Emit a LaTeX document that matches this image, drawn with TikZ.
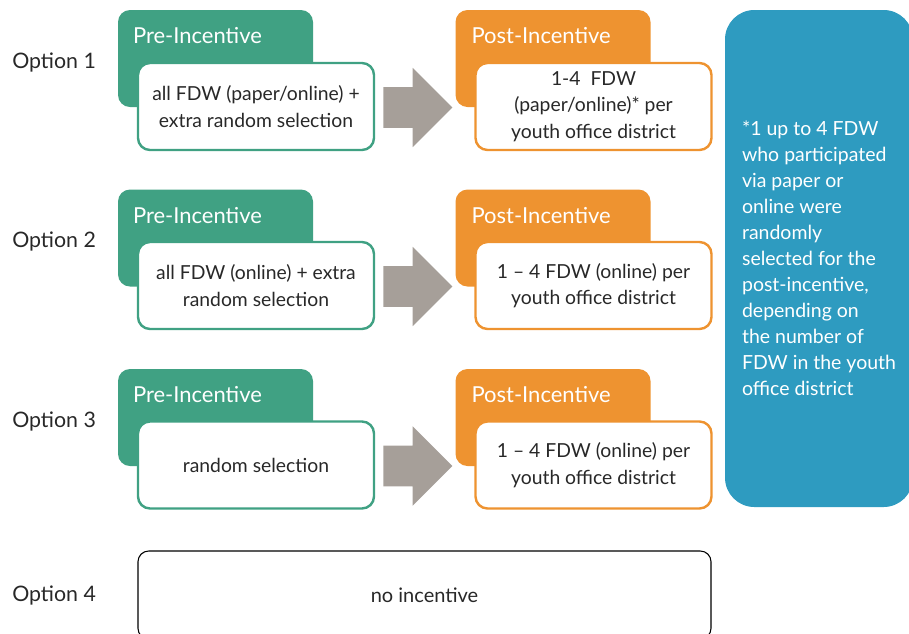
\documentclass[tikz,border=0pt]{standalone}
\usepackage{fontspec}
\setmainfont{Lato}
\usetikzlibrary{shapes.arrows,calc}
\definecolor{fdwgreen}{RGB}{64,161,131}
\definecolor{fdworange}{RGB}{238,147,48}
\definecolor{fdwblue}{RGB}{46,155,192}
\definecolor{fdwgray}{RGB}{166,159,153}
\definecolor{fdwtext}{RGB}{40,40,40}
\tikzset{
  headbox/.style={rounded corners=9pt, minimum width=146.25pt, minimum height=72.75pt, inner sep=0pt},
  prehead/.style={headbox, fill=fdwgreen},
  posthead/.style={headbox, fill=fdworange},
  headtext/.style={anchor=west, inner sep=0pt, text=white, font=\fontsize{16.5}{19}\selectfont},
  bodybox/.style={rounded corners=9pt, fill=white, line width=1.8pt, minimum width=177pt, minimum height=65.25pt, inner sep=0pt, align=center, text=fdwtext, font=\fontsize{14.5}{20}\selectfont},
  prebody/.style={bodybox, draw=fdwgreen},
  postbody/.style={bodybox, draw=fdworange},
  steparrow/.style={single arrow, fill=fdwgray, anchor=tail, minimum height=51.75pt, minimum width=59.25pt, single arrow head extend=14.6pt, single arrow tip angle=90, inner xsep=0pt, inner ysep=15pt},
  optlabel/.style={anchor=west, inner sep=0pt, text=fdwtext, font=\fontsize{16}{19}\selectfont},
  notebox/.style={rounded corners=22pt, fill=fdwblue, minimum width=141pt, minimum height=372.75pt, inner sep=0pt, align=left, text=white, font=\fontsize{14.6}{19.5}\selectfont},
  nonebox/.style={rounded corners=8pt, draw=black, line width=0.8pt, fill=white, minimum width=429.75pt, minimum height=66pt, inner sep=0pt, text=fdwtext, font=\fontsize{15}{18}\selectfont}
}
\begin{document}
\begin{tikzpicture}[x=0.75pt,y=-0.75pt]
  \useasboundingbox (0,0) rectangle (909,633);
  \clip (0,0) rectangle (909,633);
  % option labels
  \node[optlabel] (opt1) at (12,63) {Option 1};
  \node[optlabel] (opt2) at (12,242) {Option 2};
  \node[optlabel] (opt3) at (12,421) {Option 3};
  \node[optlabel] (opt4) at (12,595) {Option 4};
  % option 1
  \node[prehead] (pre1) at (215.5,58.5) {};
  \node[headtext] (pre1t) at ($(pre1.north west)+(15,26)$) {Pre-Incentive};
  \node[prebody] (preb1) at (256,106.5) {all FDW (paper/online) +\\extra random selection};
  \node[steparrow] (arr1) at (383,107.5) {};
  \node[posthead] (post1) at (553,58.5) {};
  \node[headtext] (post1t) at ($(post1.north west)+(16,26)$) {Post-Incentive};
  \node[postbody] (postb1) at (593.5,106.5) {1-4~ FDW\\(paper/online)* per\\youth office district};
  % option 2
  \node[prehead] (pre2) at (215.5,238) {};
  \node[headtext] (pre2t) at ($(pre2.north west)+(15,26)$) {Pre-Incentive};
  \node[prebody] (preb2) at (256,285.5) {all FDW (online) + extra\\random selection};
  \node[steparrow] (arr2) at (383,286.5) {};
  \node[posthead] (post2) at (553,238) {};
  \node[headtext] (post2t) at ($(post2.north west)+(16,26)$) {Post-Incentive};
  \node[postbody] (postb2) at (593.5,285.5) {1 -- 4 FDW (online) per\\youth office district};
  % option 3
  \node[prehead] (pre3) at (215.5,417.5) {};
  \node[headtext] (pre3t) at ($(pre3.north west)+(15,26)$) {Pre-Incentive};
  \node[prebody] (preb3) at (256,465) {random selection};
  \node[steparrow] (arr3) at (383,466) {};
  \node[posthead] (post3) at (553,417.5) {};
  \node[headtext] (post3t) at ($(post3.north west)+(16,26)$) {Post-Incentive};
  \node[postbody] (postb3) at (593.5,465) {1 -- 4 FDW (online) per\\youth office district};
  % footnote and option 4
  \node[notebox] (note) at (819,258.5) {*1 up to 4 FDW\\who participated\\via paper or\\online were\\randomly\\selected for the\\post-incentive,\\depending on\\the number of\\FDW in the youth\\office district};
  \node[nonebox] (none4) at (424.5,595) {no incentive};
\end{tikzpicture}
\end{document}
